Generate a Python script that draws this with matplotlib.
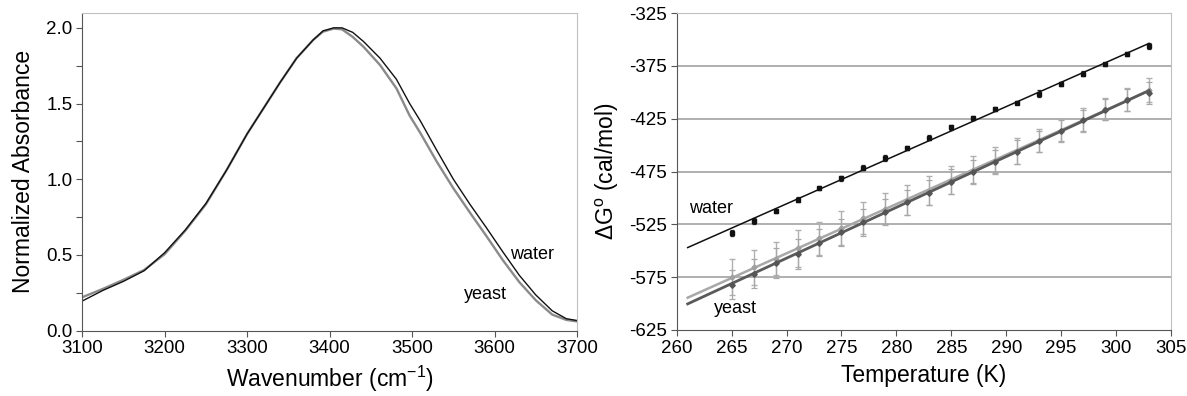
import numpy as np
import matplotlib
matplotlib.use("Agg")
import matplotlib.pyplot as plt
from matplotlib.ticker import MultipleLocator, FixedLocator

plt.rcParams['font.family'] = ['Liberation Sans', 'DejaVu Sans']
plt.rcParams['mathtext.fontset'] = 'custom'
plt.rcParams['mathtext.rm'] = 'Liberation Sans'
plt.rcParams['mathtext.it'] = 'Liberation Sans:italic'
plt.rcParams['axes.unicode_minus'] = False

# ---------------- Left panel data: IR spectra ----------------
wavenumber = [3100, 3125, 3150, 3175, 3200, 3225, 3250, 3275, 3300, 3320, 3340,
              3360, 3380, 3392, 3405, 3415, 3428, 3441, 3461, 3481, 3497, 3510,
              3530, 3550, 3570, 3590, 3610, 3630, 3650, 3670, 3687, 3700]
absorb_water = [0.195, 0.265, 0.325, 0.395, 0.515, 0.665, 0.84, 1.06, 1.30, 1.47, 1.64,
                1.80, 1.92, 1.98, 2.00, 2.00, 1.97, 1.91, 1.80, 1.66, 1.50, 1.385,
                1.19, 1.00, 0.835, 0.68, 0.52, 0.365, 0.235, 0.13, 0.078, 0.066]
absorb_yeast = [0.22, 0.275, 0.335, 0.40, 0.505, 0.66, 0.835, 1.06, 1.30, 1.47, 1.64,
                1.80, 1.92, 1.975, 1.995, 1.99, 1.94, 1.875, 1.755, 1.60, 1.42, 1.305,
                1.115, 0.94, 0.78, 0.625, 0.465, 0.32, 0.20, 0.105, 0.07, 0.06]

# ---------------- Right panel data: dG vs T ----------------
temperature = [265, 267, 269, 271, 273, 275, 277, 279, 281, 283,
               285, 287, 289, 291, 293, 295, 297, 299, 301, 303]
dg_water = [-533.0, -521.7, -512.5, -501.5, -490.7, -481.3, -471.2, -462.1, -452.3, -442.8,
            -433.2, -424.5, -416.0, -409.7, -401.2, -392.0, -382.2, -373.5, -363.7, -356.0]
err_water = [3, 2.5, 2, 2, 2, 2.5, 2, 2.5, 2, 2,
             2.5, 2, 2, 1.5, 3, 2, 2, 1.5, 1.5, 3]
dg_yeast_dark = [-582.0, -571.5, -561.5, -553.0, -542.2, -532.5, -523.0, -512.9, -504.0, -494.9,
                 -484.5, -475.0, -465.5, -456.5, -446.4, -436.4, -426.4, -416.6, -407.2, -400.6]
err_yeast_dark = [14, 14, 14, 14, 13, 13, 13, 12, 12, 12,
                  12, 11, 11, 11, 10, 10, 10, 10, 10, 10]
dg_yeast_light = [-575.0, -565.8, -557.3, -547.5, -538.3, -528.4, -519.2, -510.7, -501.8, -493.0,
                  -482.9, -473.4, -464.6, -455.4, -445.6, -436.2, -426.1, -416.0, -406.6, -397.7]
err_yeast_light = [17, 17, 15.5, 17.5, 16, 16.5, 15, 15, 14.2, 14,
                   13.4, 13, 12.6, 12, 11, 11, 11, 10.5, 11, 11.5]
fit_range = [261, 303]
dg_ticks = [-625, -575, -525, -475, -425, -375, -325]
grid_levels = [-575, -525, -475, -425, -375]

fig = plt.figure(figsize=(11.87, 3.96), dpi=100)

# ---------------- Left panel ----------------
ax1 = fig.add_axes([82.3/1187, 1-330.5/396, (577-82.3)/1187, (330.5-12.7)/396])
ax1.plot(wavenumber, absorb_yeast, color='#8a8a8a', lw=1.7, solid_joinstyle='round')
ax1.plot(wavenumber, absorb_water, color='#111111', lw=1.0, solid_joinstyle='round')
ax1.set_xlim(3100, 3700)
ax1.set_ylim(0, 2.1)
ax1.xaxis.set_major_locator(MultipleLocator(100))
ax1.yaxis.set_major_locator(MultipleLocator(0.5))
ax1.yaxis.set_minor_locator(MultipleLocator(0.25))
ax1.yaxis.set_major_formatter(matplotlib.ticker.FormatStrFormatter('%.1f'))
ax1.tick_params(axis='both', which='both', direction='out', length=4, width=0.8,
                labelsize=13.5, color='#555555', pad=3)
ax1.set_xlabel('Wavenumber (cm$^{-1}$)', fontsize=16.5, labelpad=5)
ax1.set_ylabel('Normalized Absorbance', fontsize=16.5, labelpad=8)
for s in ['left', 'bottom']:
    ax1.spines[s].set_color('#555555')
for s in ['top', 'right']:
    ax1.spines[s].set_color('#c0c0c0')
ax1.text(3645, 0.50, 'water', fontsize=13, ha='center', va='center')
ax1.text(3589, 0.24, 'yeast', fontsize=13, ha='center', va='center')

# ---------------- Right panel ----------------
ax2 = fig.add_axes([676.7/1187, 1-330/396, (1171-676.7)/1187, (330-13.2)/396])
ax2.set_xlim(260, 305)
ax2.set_ylim(-625, -325)
ax2.yaxis.set_major_locator(FixedLocator(dg_ticks))
ax2.xaxis.set_major_locator(MultipleLocator(5))
for yv in grid_levels:
    ax2.axhline(yv, color='#9a9a9a', lw=1.1, zorder=0)

tf = np.array(fit_range, dtype=float)
T = np.array(temperature, dtype=float)

# yeast light series
ax2.errorbar(temperature, dg_yeast_light, yerr=err_yeast_light, fmt='none',
             ecolor='#b0b0b0', elinewidth=1.0, capsize=2.5, capthick=1.0, zorder=2)
pl = np.polyfit(T, dg_yeast_light, 1)
ax2.plot(tf, np.polyval(pl, tf), color='#a8a8a8', lw=1.8, zorder=3)
ax2.plot(temperature, dg_yeast_light, 'D', color='#a0a0a0', ms=2.5, zorder=3)

# yeast dark series
ax2.errorbar(temperature, dg_yeast_dark, yerr=err_yeast_dark, fmt='none',
             ecolor='#a8a8a8', elinewidth=0.9, capsize=2.5, capthick=0.9, zorder=2)
pd_ = np.polyfit(T, dg_yeast_dark, 1)
ax2.plot(tf, np.polyval(pd_, tf), color='#5a5a5a', lw=2.0, zorder=4)
ax2.plot(temperature, dg_yeast_dark, 'D', color='#555555', ms=2.8, zorder=4)

# water
ax2.errorbar(temperature, dg_water, yerr=err_water, fmt='none',
             ecolor='#222222', elinewidth=0.9, capsize=1.5, capthick=0.9, zorder=5)
pw = np.polyfit(T, dg_water, 1)
ax2.plot(tf, np.polyval(pw, tf), color='#111111', lw=1.1, zorder=5)
ax2.plot(temperature, dg_water, 's', color='#111111', ms=2.5, zorder=6)

ax2.tick_params(axis='both', which='both', direction='out', length=4, width=0.8,
                labelsize=13.5, color='#555555', pad=3)
ax2.set_xlabel('Temperature (K)', fontsize=16.5, labelpad=5)
ax2.set_ylabel(r'$\Delta$G$^{\mathrm{o}}$ (cal/mol)', fontsize=16.5, labelpad=6)
for s in ['left', 'bottom']:
    ax2.spines[s].set_color('#555555')
for s in ['top', 'right']:
    ax2.spines[s].set_color('#c0c0c0')
ax2.text(263.1, -510.3, 'water', fontsize=13, ha='center', va='center')
ax2.text(265.35, -604.5, 'yeast', fontsize=13, ha='center', va='center')

fig.savefig('out.png', dpi=100)
